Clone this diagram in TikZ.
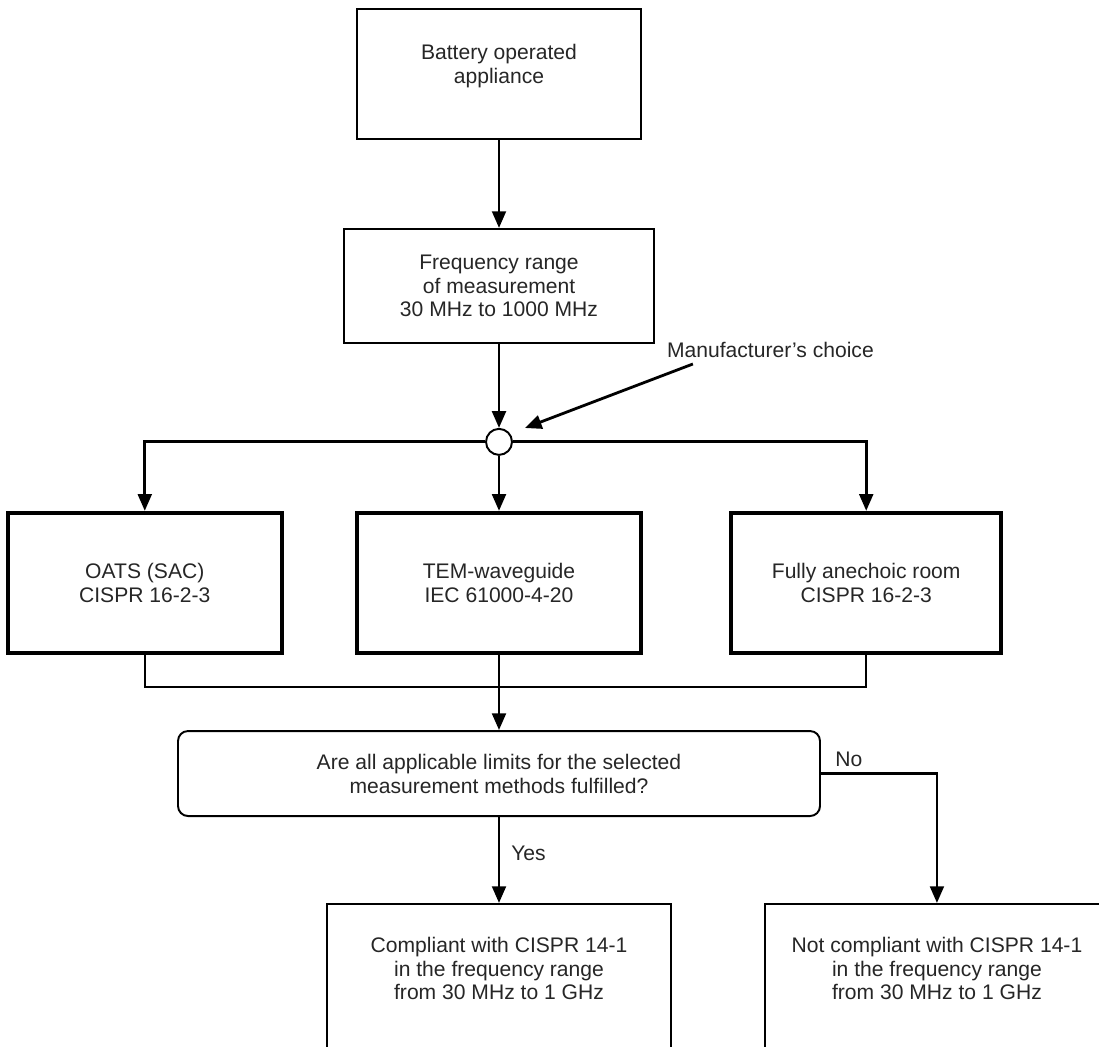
\documentclass[tikz,border=0pt]{standalone}
\usepackage{fontspec}
\setmainfont{Liberation Sans}
\usepackage{xcolor}
\definecolor{textgray}{rgb}{0.15,0.15,0.15}
\usetikzlibrary{positioning,shapes,arrows.meta}
\tikzstyle{box}=[rectangle, draw=black, line width=1.1pt, text centered, align=center,
        text=textgray, inner sep=0pt]
\tikzstyle{method}=[box, line width=2.4pt, minimum height=2.8cm]
\tikzstyle{question}=[box, rounded corners=0.2cm]
\tikzstyle{outcome}=[box, minimum width=6.88cm, minimum height=3.2cm]
\tikzstyle{choice}=[circle, draw=black, line width=1.1pt, fill=white, minimum size=0.52cm, inner sep=0pt]
\tikzstyle{tag}=[text=textgray]
\tikzstyle{line}=[line width=1.6pt,->,>={Triangle[length=9.5pt,width=7.8pt]}]
\tikzstyle{merge}=[line width=1.1pt]

\begin{document}
\begin{tikzpicture}[font=\fontsize{12}{13.6}\selectfont]
\useasboundingbox (0,0) rectangle (21.98,-20.92);
\clip (0,0) rectangle (21.98,-20.92);

\node (battery) [box, minimum width=5.68cm, minimum height=2.6cm] at (9.98,-1.48)
  {Battery operated\\appliance\\[-0.2cm]\strut};
\node (freq) [box, below=1.76cm of battery, minimum width=6.2cm, minimum height=2.28cm]
  {Frequency range\\of measurement\\30 MHz to 1000 MHz};
\node (circ) [choice, below=1.68cm of freq] {};
\node (manuf) [tag, above right=1.36cm and 3.04cm of circ] {Manufacturer’s choice};
\node (tem) [method, below=1.1cm of circ, minimum width=5.68cm] {TEM-waveguide\\IEC 61000-4-20};
\node (oats) [method, left=1.42cm of tem, minimum width=5.48cm] {OATS (SAC)\\CISPR 16-2-3};
\node (anechoic) [method, right=1.72cm of tem, minimum width=5.4cm] {Fully anechoic room\\CISPR 16-2-3};
\node (decision) [question, below=1.5cm of tem, minimum width=12.84cm, minimum height=1.7cm]
  {Are all applicable limits for the selected\\measurement methods fulfilled?};
\node (compliant) [outcome, below=1.72cm of decision]
  {Compliant with CISPR 14-1\\in the frequency range\\from 30 MHz to 1 GHz\\\strut};
\node (notcompliant) [outcome, right=1.84cm of compliant]
  {Not compliant with CISPR 14-1\\in the frequency range\\from 30 MHz to 1 GHz\\\strut};

% draw lines
\draw[line] (battery) -- (freq);
\draw[line] (freq) -- (circ);
\draw[line] ([xshift=0.64cm]manuf.south west) -- ([xshift=0.32cm,yshift=0.08cm]circ.north east);
\draw[line] (circ) -| (oats);
\draw[line] (circ) -- (tem);
\draw[line] (circ) -| (anechoic);
\draw[merge] (oats.south) -- ++(0,-0.64) -| (anechoic.south);
\draw[line] (tem) -- (decision);
\draw[line] (decision) -- node[tag, right, pos=0.42, xshift=0.1cm] (yes) {Yes} (compliant);
\draw[line] (decision.east) -| node[tag, above, pos=0.12] (no) {No} (notcompliant.north);

\end{tikzpicture}
\end{document}
